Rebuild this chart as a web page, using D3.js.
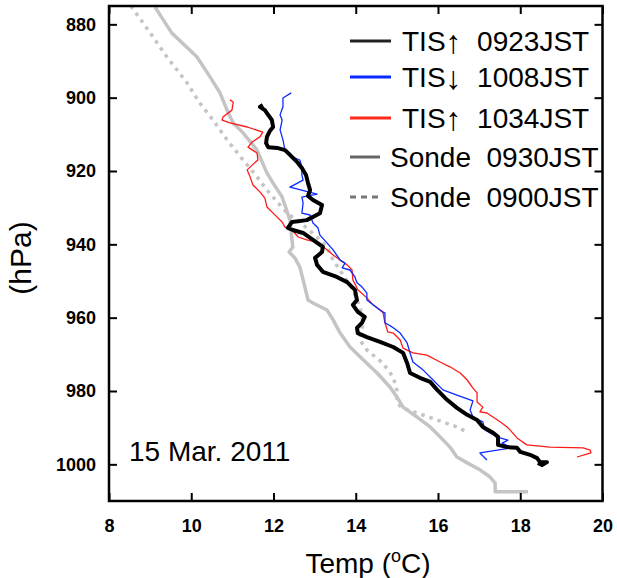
<!DOCTYPE html>
<html><head><meta charset="utf-8">
<script src="https://cdn.jsdelivr.net/npm/d3@7"></script>
<style>
html,body{margin:0;padding:0;background:#fff;}
svg text{font-family:"Liberation Sans",Arial,Helvetica,sans-serif;white-space:pre;}
</style></head>
<body><svg id="c" width="617" height="578"></svg>
<script>
// Temperature (degC), pressure (hPa)
const tis0923T = [11.74,11.67,11.79,11.87,11.96,11.99,11.91,11.84,11.82,11.87,12.09,12.28,12.40,12.57,12.69,12.79,12.84,12.89,12.84,12.96,13.18,13.13,12.81,12.45,12.35,12.47,12.72,12.96,13.20,13.18,13.01,13.06,13.20,13.54,13.79,13.98,14.03,13.93,14.05,14.22,14.15,14.03,14.05,14.27,14.59,14.91,15.15,15.25,15.32,15.56,15.81,15.98,16.22,16.46,16.71,16.95,17.09,17.34,17.46,17.46,17.68,17.92,18.00,18.24,18.41,18.48,18.65,18.53,18.43];
const tis0923P = [902.0,902.5,903.4,904.7,906.1,908.0,909.1,910.7,912.4,913.5,913.7,914.3,915.6,917.5,919.2,921.1,923.3,925.2,926.8,927.9,929.3,931.5,933.4,933.9,935.5,936.1,936.9,938.8,940.7,942.1,943.7,945.6,947.5,948.9,950.3,952.4,955.2,956.5,958.4,959.8,961.4,962.8,964.2,965.3,966.6,968.0,969.6,972.4,975.1,976.4,977.5,979.7,982.4,984.6,986.5,987.9,989.8,991.4,992.5,994.7,995.3,995.5,996.6,997.4,998.3,999.4,999.4,1000.2,999.6];

const tis1008T = [12.43,12.23,12.23,12.16,12.21,12.16,12.23,12.28,12.40,12.47,12.64,12.69,12.69,12.72,12.40,13.06,12.69,12.72,12.69,12.89,12.96,13.08,13.13,13.30,13.45,13.62,13.74,13.67,13.86,13.98,14.03,14.15,14.27,14.27,14.42,14.64,14.71,14.71,14.88,15.08,15.25,15.32,15.39,15.64,15.88,16.12,16.46,16.85,16.78,16.85,17.09,17.14,17.26,17.51,17.70,17.56,17.80,17.02,17.19];
const tis1008P = [898.7,900.1,902.5,904.7,906.1,908.8,911.5,914.3,915.1,916.2,917.0,918.9,921.1,922.5,924.4,926.3,927.1,928.7,931.5,932.0,934.2,935.5,937.5,939.6,941.5,944.3,945.1,946.4,947.0,948.9,950.5,951.6,953.3,955.2,956.5,958.4,958.7,961.4,962.5,964.2,966.9,969.6,972.1,974.3,977.0,979.7,981.1,982.7,985.2,987.1,988.4,990.6,991.4,992.8,993.4,994.2,995.5,996.9,998.8];

const tis1034T = [10.94,11.02,10.99,10.77,10.75,10.94,11.36,11.74,11.67,11.48,11.38,11.60,11.62,11.48,11.36,11.43,11.50,11.67,11.79,11.84,11.99,12.21,12.28,12.45,12.60,12.81,13.06,13.30,13.45,13.62,13.79,13.91,13.93,14.05,14.27,14.42,14.66,14.71,14.78,14.91,15.08,15.15,15.39,15.73,16.05,16.29,16.54,16.71,16.85,16.95,16.95,17.09,17.02,17.19,17.51,17.68,17.75,17.92,18.16,18.72,19.53,19.70,19.72,19.38];
const tis1034P = [900.6,901.2,903.4,905.3,906.1,906.9,908.0,909.4,910.7,912.1,913.5,915.1,917.0,918.4,919.7,921.6,923.8,925.7,927.4,929.8,931.5,933.9,935.3,936.1,938.0,938.8,939.4,941.5,942.9,944.3,945.6,947.0,949.7,952.4,954.6,956.5,958.4,961.4,963.9,964.2,966.1,968.3,969.6,970.2,972.1,973.4,975.1,977.0,979.2,980.5,983.0,984.4,985.7,986.0,988.4,989.8,990.6,992.8,994.7,995.3,995.5,996.1,996.9,998.0];

const sonde0930T = [9.12,9.43,9.53,10.04,10.14,10.46,10.70,10.87,11.02,11.26,11.60,11.84,11.99,12.21,12.40,12.45,12.47,12.38,12.52,12.64,12.72,12.84,12.96,13.30,13.45,13.62,13.86,14.18,14.52,14.83,15.00,15.15,15.49,15.81,16.05,16.29,16.46,16.71,17.02,17.26,17.39,17.39,18.19];
const sonde0930P = [875.3,880.7,882.4,887.8,888.9,894.4,898.7,903.4,906.9,909.6,914.3,920.5,923.3,927.1,933.4,938.8,940.7,942.1,943.7,946.2,949.7,955.2,956.0,957.9,960.6,964.2,968.0,971.5,975.1,978.9,981.6,984.4,987.1,989.8,992.5,995.3,998.0,999.6,1001.5,1003.4,1005.1,1007.5,1007.5];

const sonde0900T = [8.53,8.83,9.41,9.90,10.21,10.53,10.87,11.26,11.60,11.84,12.33,12.81,13.30,13.45,13.93,14.10,14.18,14.10,14.27,14.66,14.91,15.00,15.00,15.12,15.49,15.98,16.46,16.71];
const sonde0900P = [875.0,879.6,888.9,896.0,901.5,906.1,911.5,917.0,921.6,925.2,931.5,935.5,940.7,944.3,952.4,957.1,961.4,966.1,968.8,972.4,976.2,979.7,983.0,984.6,986.0,987.9,989.8,991.2];

const xTicks = [8,10,12,14,16,18,20];
const yTicks = [880,900,920,940,960,980,1000];
const legendLabels = ["TIS\u2191  0923JST","TIS\u2193  1008JST","TIS\u2191  1034JST","Sonde  0930JST","Sonde  0900JST"];
const dateLabel = "15 Mar. 2011";

const svg = d3.select("#c");
const L=109,R=602.5,T=6,B=501;
const x = d3.scaleLinear().domain([8,20]).range([L,R]);
const y = d3.scaleLinear().domain([875,1010]).range([T,B]);

svg.append("defs").append("clipPath").attr("id","clip")
  .append("rect").attr("x",L).attr("y",T).attr("width",R-L).attr("height",B-T);

const line = d3.line().x(d=>x(d[0])).y(d=>y(d[1]));
const zip=(a,b)=>a.map((v,i)=>[v,b[i]]);

const g = svg.append("g").attr("clip-path","url(#clip)");
const series = [
  {T:sonde0900T,P:sonde0900P,color:"#c4c4c4",w:3.5,dash:"3.5,5"},
  {T:sonde0930T,P:sonde0930P,color:"#c4c4c4",w:3.5,dash:null},
  {T:tis1034T,P:tis1034P,color:"#ff1a1a",w:1.3,dash:null},
  {T:tis1008T,P:tis1008P,color:"#0a2bff",w:1.3,dash:null},
  {T:tis0923T,P:tis0923P,color:"#000",w:4,dash:null},
];
series.forEach(s=>{
  g.append("path").attr("d",line(zip(s.T,s.P))).attr("fill","none")
   .attr("stroke",s.color).attr("stroke-width",s.w)
   .attr("stroke-linejoin","round")
   .attr("stroke-dasharray",s.dash);
});

// axes with inward ticks on all sides
const ax = svg.append("g");
ax.append("g").attr("transform",`translate(0,${B})`)
  .call(d3.axisBottom(x).tickValues(xTicks).tickSize(-8).tickPadding(18).tickFormat(d3.format("d")));
ax.append("g").attr("transform",`translate(0,${T})`)
  .call(d3.axisTop(x).tickValues(xTicks).tickSize(-8).tickFormat(""));
ax.append("g").attr("transform",`translate(${L},0)`)
  .call(d3.axisLeft(y).tickValues(yTicks).tickSize(-8).tickPadding(13).tickFormat(d3.format("d")));
ax.append("g").attr("transform",`translate(${R},0)`)
  .call(d3.axisRight(y).tickValues(yTicks).tickSize(-8).tickFormat(""));
ax.selectAll(".domain").remove();
ax.selectAll(".tick line").attr("stroke","#000").attr("stroke-width",2);
ax.selectAll(".tick text").attr("font-size",18).attr("font-weight","bold").attr("fill","#000")
  .style("font-family","'Liberation Sans',Arial,sans-serif");
svg.append("rect").attr("x",L).attr("y",T).attr("width",R-L).attr("height",B-T)
  .attr("fill","none").attr("stroke","#000").attr("stroke-width",2.5);

// axis titles
const xt = svg.append("text").attr("x",368).attr("y",573).attr("text-anchor","middle").attr("font-size",28);
xt.append("tspan").text("Temp (");
xt.append("tspan").text("o").attr("font-size",18).attr("dy",-11);
xt.append("tspan").text("C)").attr("dy",11);
svg.append("text").attr("transform","translate(31,258) rotate(-90)").attr("text-anchor","middle")
  .attr("font-size",30).text("(hPa)");

// date label
svg.append("text").attr("x",129).attr("y",461).attr("font-size",28).text(dateLabel);

// legend
const legColors=["#222","#0a2bff","#ff2a1a","#666","#777"];
const legY=[41,77,118,157,197];
const legX1=[391,391,391,380,380];
const legTx=[402,402,402,390,390];
legendLabels.forEach((lab,i)=>{
  svg.append("line").attr("x1",350).attr("x2",legX1[i]).attr("y1",legY[i]).attr("y2",legY[i])
    .attr("stroke",legColors[i]).attr("stroke-width",3)
    .attr("stroke-dasharray",i===4?"6,5":null);
  const t = svg.append("text").attr("x",legTx[i]).attr("y",legY[i]+10).attr("font-size",28);
  const m = lab.match(/^(.*?)([\u2191\u2193])(.*)$/);
  if(m){
    t.append("tspan").text(m[1]);
    t.append("tspan").text(m[2]).attr("font-size",32).attr("dy",2);
    t.append("tspan").text(m[3]).attr("dy",-2);
  } else t.text(lab);
});
</script></body></html>
